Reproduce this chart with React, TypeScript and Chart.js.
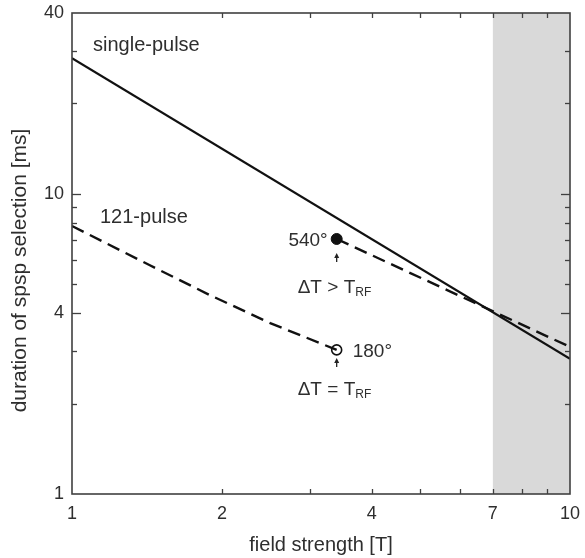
import React, { useEffect, useRef } from 'react';
import { Chart, registerables } from 'chart.js';

Chart.register(...registerables);

// ---- data ----
const singlePulseB = [1, 10];
const singlePulseT = [28.3, 2.82];

const pulse121LowB = [1, 1.43, 1.89, 2.5, 3.4];
const pulse121LowT = [7.81, 5.79, 4.6, 3.71, 3.02];

const pulse121HighB = [3.4, 10];
const pulse121HighT = [7.07, 3.09];

const marker540B = [3.4];
const marker540T = [7.07];
const marker180B = [3.4];
const marker180T = [3.02];

const xTickValues = [1, 2, 3, 4, 5, 6, 7, 8, 9, 10];
const xTickLabels = [1, 2, 4, 7, 10];
const yTickValues = [1, 2, 3, 4, 5, 6, 7, 8, 9, 10, 20, 30, 40];
const yTickLabels = [1, 4, 10, 40];

const shadeFrom = 7;
const shadeTo = 10;

const xTitle = 'field strength [T]';
const yTitle = 'duration of spsp selection [ms]';

const pts = (xs: number[], ys: number[]) => xs.map((x, i) => ({ x, y: ys[i] }));

const TEXT = '#2e2e2e';
const FONT = '"Liberation Sans", Arial, Helvetica, sans-serif';

const overlayPlugin = {
  id: 'overlay',
  beforeDatasetsDraw(chart: any) {
    const { ctx, chartArea: a, scales } = chart;
    const x = scales.x;
    ctx.save();
    ctx.fillStyle = '#d9d9d9';
    const x0 = x.getPixelForValue(shadeFrom);
    const x1 = x.getPixelForValue(shadeTo);
    ctx.fillRect(x0, a.top, x1 - x0, a.bottom - a.top);
    ctx.restore();
  },
  afterDraw(chart: any) {
    const { ctx, chartArea: a, scales } = chart;
    const x = scales.x;
    const y = scales.y;
    ctx.save();
    // frame
    ctx.strokeStyle = '#404040';
    ctx.lineWidth = 1.6;
    ctx.strokeRect(a.left, a.top, a.right - a.left, a.bottom - a.top);
    // inward ticks
    ctx.lineWidth = 1.3;
    const line = (x0: number, y0: number, x1: number, y1: number) => {
      ctx.beginPath();
      ctx.moveTo(x0, y0);
      ctx.lineTo(x1, y1);
      ctx.stroke();
    };
    xTickValues.forEach((v) => {
      if (v === 1 || v === 10) return;
      const px = Math.round(x.getPixelForValue(v)) + 0.5;
      line(px, a.bottom, px, a.bottom - 5);
      line(px, a.top, px, a.top + 5);
    });
    yTickValues.forEach((v) => {
      if (v === 1 || v === 40) return;
      const py = Math.round(y.getPixelForValue(v)) + 0.5;
      const len = yTickLabels.includes(v) ? 9 : 5;
      line(a.left, py, a.left + len, py);
      line(a.right, py, a.right - len, py);
    });

    // y-axis title
    ctx.fillStyle = TEXT;
    ctx.font = `21px ${FONT}`;
    ctx.textAlign = 'center';
    ctx.textBaseline = 'alphabetic';
    ctx.save();
    ctx.translate(26, (a.top + a.bottom) / 2 + 17);
    ctx.rotate(-Math.PI / 2);
    ctx.fillText(yTitle, 0, 0);
    ctx.restore();

    // annotations
    ctx.fillStyle = TEXT;
    ctx.textBaseline = 'alphabetic';
    ctx.font = `20px ${FONT}`;
    ctx.textAlign = 'left';
    ctx.fillText('single-pulse', a.left + 21, a.top + 38);
    ctx.fillText('121-pulse', a.left + 28, a.top + 210);

    const m1x = x.getPixelForValue(marker540B[0]);
    const m1y = y.getPixelForValue(marker540T[0]);
    const m2x = x.getPixelForValue(marker180B[0]);
    const m2y = y.getPixelForValue(marker180T[0]);

    ctx.font = `19px ${FONT}`;
    ctx.textAlign = 'right';
    ctx.fillText('540°', m1x - 9, m1y + 7);
    ctx.textAlign = 'left';
    ctx.fillText('180°', m2x + 16, m2y + 7);

    const arrow = (ax: number, tipY: number, tailY: number) => {
      ctx.strokeStyle = '#222';
      ctx.fillStyle = '#222';
      ctx.lineWidth = 1.3;
      line(ax, tipY + 3, ax, tailY);
      ctx.beginPath();
      ctx.moveTo(ax, tipY);
      ctx.lineTo(ax - 2.5, tipY + 5);
      ctx.lineTo(ax + 2.5, tipY + 5);
      ctx.closePath();
      ctx.fill();
    };
    arrow(m1x, m1y + 14, m1y + 23);
    arrow(m2x, m2y + 8, m2y + 17);

    const deltaText = (left: number, base: number, rel: string) => {
      ctx.fillStyle = TEXT;
      ctx.textAlign = 'left';
      ctx.font = `19px ${FONT}`;
      const main = `ΔT ${rel} T`;
      ctx.fillText(main, left, base);
      const w = ctx.measureText(main).width;
      ctx.font = `12px ${FONT}`;
      ctx.fillText('RF', left + w, base + 3);
    };
    deltaText(m1x - 39, m1y + 54, '>');
    deltaText(m2x - 39, m2y + 45, '=');

    ctx.restore();
  },
};

export default function App() {
  const canvasRef = useRef<HTMLCanvasElement | null>(null);

  useEffect(() => {
    const canvas = canvasRef.current;
    if (!canvas) return;
    const chart = new Chart(canvas, {
      type: 'scatter',
      data: {
        datasets: [
          {
            label: 'single-pulse',
            data: pts(singlePulseB, singlePulseT),
            showLine: true,
            borderColor: '#111',
            borderWidth: 2.2,
            pointRadius: 0,
          },
          {
            label: '121-pulse (low)',
            data: pts(pulse121LowB, pulse121LowT),
            showLine: true,
            borderColor: '#111',
            borderWidth: 2.4,
            borderDash: [13, 7],
            pointRadius: 0,
          },
          {
            label: '121-pulse (high)',
            data: pts(pulse121HighB, pulse121HighT),
            showLine: true,
            borderColor: '#111',
            borderWidth: 2.4,
            borderDash: [13, 7],
            pointRadius: 0,
          },
          {
            label: '540°',
            data: pts(marker540B, marker540T),
            showLine: false,
            pointRadius: 5.5,
            pointBackgroundColor: '#111',
            pointBorderColor: '#111',
            pointBorderWidth: 1,
          },
          {
            label: '180°',
            data: pts(marker180B, marker180T),
            showLine: false,
            pointRadius: 5,
            pointBackgroundColor: '#fff',
            pointBorderColor: '#111',
            pointBorderWidth: 1.6,
          },
        ],
      },
      options: {
        responsive: false,
        animation: false,
        devicePixelRatio: 1,
        layout: { padding: { top: 13, right: 15, left: 0, bottom: 0 } },
        plugins: {
          legend: { display: false },
          tooltip: { enabled: false },
        },
        scales: {
          x: {
            type: 'logarithmic',
            min: 1,
            max: 10,
            grid: { display: false, drawTicks: false },
            border: { display: false },
            afterBuildTicks: (s: any) => {
              s.ticks = xTickValues.map((v) => ({ value: v }));
            },
            afterFit: (s: any) => {
              s.height = 64;
              s.paddingLeft = 0;
              s.paddingRight = 0;
              s.paddingTop = 0;
              s.paddingBottom = 0;
            },
            ticks: {
              autoSkip: false,
              maxRotation: 0,
              padding: 9,
              color: TEXT,
              font: { family: FONT, size: 18 },
              callback: (v: any) => (xTickLabels.includes(Number(v)) ? String(v) : ''),
            },
            title: {
              display: true,
              text: xTitle,
              color: TEXT,
              font: { family: FONT, size: 20 },
              padding: { top: 0, bottom: 1 },
            },
          },
          y: {
            type: 'logarithmic',
            min: 1,
            max: 40,
            grid: { display: false, drawTicks: false },
            border: { display: false },
            afterBuildTicks: (s: any) => {
              s.ticks = yTickValues.map((v) => ({ value: v }));
            },
            afterFit: (s: any) => {
              s.width = 72;
              s.paddingLeft = 0;
              s.paddingRight = 0;
              s.paddingTop = 0;
              s.paddingBottom = 0;
            },
            ticks: {
              autoSkip: false,
              padding: 8,
              color: TEXT,
              font: { family: FONT, size: 18 },
              callback: (v: any) => (yTickLabels.includes(Number(v)) ? String(v) : ''),
            },
            title: { display: false },
          },
        },
      },
      plugins: [overlayPlugin],
    } as any);
    return () => chart.destroy();
  }, []);

  return (
    <div style={{ position: 'absolute', left: 0, top: 0, width: 585, height: 558, background: '#fff' }}>
      <canvas ref={canvasRef} width={585} height={558} style={{ display: 'block' }} />
    </div>
  );
}
